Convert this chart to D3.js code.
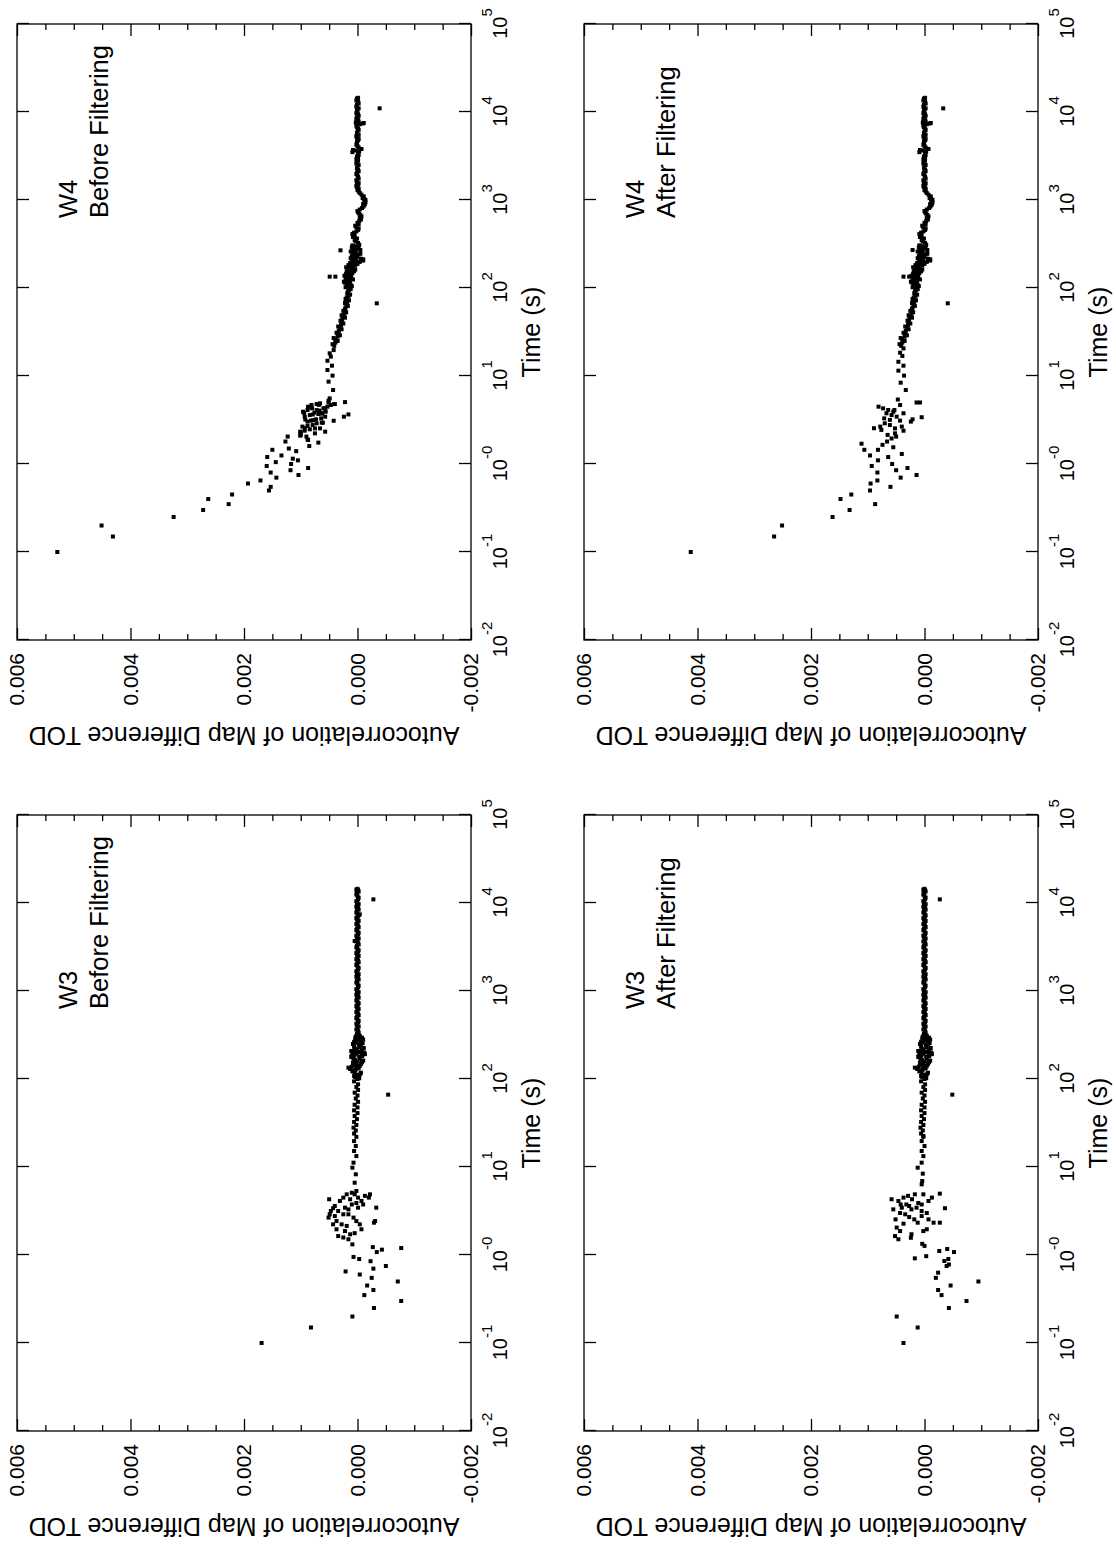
<!DOCTYPE html>

<html lang="en">
    <head>
        <meta charset="utf-8">
        <title>autocorrelation of map difference TOD</title>
        <script type="text/javascript" src="https://cdn.jsdelivr.net/npm/d3@7"></script>
        <style>
            body { margin: 0; background: #ffffff; }
            svg { display: block; }
        </style>
    </head>
    <body>
        <script type="text/javascript">
            // axis ticks
            var timeTicks = [1e-2, 1e-1, 1, 1e1, 1e2, 1e3, 1e4, 1e5];
            var timeTickExp = ["-2", "-1", "-0", "1", "2", "3", "4", "5"];
            var acfTicks = [0.006, 0.004, 0.002, 0.000, -0.002];
            var acfTickLabels = ["0.006", "0.004", "0.002", "0.000", "-0.002"];
            var acfMinorTicks = [0.0055, 0.005, 0.0045, 0.0035, 0.003, 0.0025, 0.0015, 0.001, 0.0005, -0.0005, -0.001, -0.0015];

            // [lag time (s), autocorrelation], short lags + outliers
            var w4BeforePoints = [[0.1,0.00529],[0.15,0.00431],[0.2,0.00451],[0.25,0.00324],[0.3,0.00272],[0.35,0.00227],[0.4,0.00263],[0.45,0.00221],
                [0.5,0.00156],[0.55,0.00153],[0.6,0.00193],[0.65,0.00171],[0.7,0.00143],[0.75,0.00104],[0.8,0.00153],[0.85,0.00118],[0.9,0.00087],
                [0.95,0.00160],[1.0,0.00117],[1.05,0.00144],[1.1,0.00105],[1.15,0.00114],[1.2,0.00159],[1.25,0.00134],[1.4,0.00108],[1.45,0.00150],
                [1.5,0.00121],[1.6,0.00085],[1.75,0.00069],[1.8,0.00127],[1.87,0.00087],[1.9,0.00088],[2.05,0.00123],[2.05,0.00090],[2.1,0.00101],
                [2.14,0.00100],[2.23,0.00075],[2.3,0.00100],[2.33,0.00101],[2.33,0.00057],[2.39,0.00093],[2.48,0.00084],[2.54,0.00075],[2.54,0.00066],
                [2.55,0.00093],[2.66,0.00097],[2.7,0.00088],[2.77,0.00079],[2.9,0.00072],[2.95,0.00063],[2.95,0.00061],[3.03,0.00088],[3.1,0.00042],
                [3.11,0.00082],[3.15,0.00078],[3.2,0.00092],[3.22,0.00073],[3.3,0.00064],[3.45,0.00093],[3.45,0.00057],[3.45,0.00024],[3.6,0.00084],
                [3.65,0.00079],[3.66,0.00016],[3.7,0.00069],[3.75,0.00063],[3.77,0.00062],[3.8,0.00094],[3.83,0.00076],[3.93,0.00096],[3.93,0.00056],
                [4.04,0.00067],[4.1,0.00072],[4.11,0.00088],[4.29,0.00080],[4.29,0.00060],[4.3,0.00057],[4.35,0.00087],[4.48,0.00087],[4.48,0.00053],
                [4.68,0.00081],[4.68,0.00047],[4.7,0.00068],[4.8,0.00041],[4.8,0.00040],[4.8,0.00072],[4.89,0.00066],[5.0,0.00051],[5.05,0.00022],
                [5.24,0.00051],[5.57,0.00049],[6.93,0.00043],[8.63,0.00051],[10.1,0.00044],[11.7,0.00053],[13.1,0.00045],[14.9,0.00053],[16.6,0.00047],
                [18.1,0.00049],[19.7,0.00042],[67,-0.00034],[134.6,0.00049],[134.6,0.00039],[268,0.00030],[11000,-0.00039]];

            var w4AfterPoints = [[0.1,0.00412],[0.15,0.00265],[0.2,0.00251],[0.25,0.00162],[0.3,0.00132],[0.35,0.00087],[0.4,0.00148],[0.45,0.00129],
                [0.5,0.00096],[0.55,0.00060],[0.6,0.00095],[0.65,0.00083],[0.7,0.00042],[0.75,0.00014],[0.8,0.00083],[0.85,0.00050],[0.9,0.00030],
                [0.95,0.00093],[1.0,0.00057],[1.1,0.00082],[1.2,0.00064],[1.25,0.00096],[1.3,0.00040],[1.45,0.00106],[1.45,0.00082],[1.55,0.00055],
                [1.65,0.00074],[1.7,0.00111],[1.8,0.00066],[1.95,0.00058],[2.05,0.00050],[2.14,0.00065],[2.23,0.00052],[2.39,0.00037],[2.44,0.00076],
                [2.54,0.00052],[2.55,0.00089],[2.66,0.00078],[2.66,0.00040],[2.77,0.00061],[2.9,0.00070],[3.03,0.00024],[3.11,0.00043],[3.17,0.00061],
                [3.22,0.00021],[3.3,0.00071],[3.4,0.00005],[3.45,0.00049],[3.6,0.00058],[3.77,0.00067],[3.77,0.00037],[3.93,0.00055],[4.11,0.00064],
                [4.11,0.00053],[4.29,0.00073],[4.48,0.00081],[4.68,0.00043],[5.0,0.00008],[5.0,0.00014],[5.4,0.00047],[6.93,0.00033],[8.4,0.00042],
                [10.1,0.00036],[11.5,0.00046],[13.1,0.00037],[14.5,0.00046],[16.9,0.00039],[18.4,0.00043],[20.6,0.00037],[67,-0.00041],
                [134.6,0.00037],[134.6,0.00027],[270,0.00021],[11000,-0.00033]];

            var w3BeforePoints = [[0.1,0.00169],[0.15,0.00082],[0.2,0.00009],[0.25,-0.00029],[0.3,-0.00077],[0.35,-0.00012],[0.4,-0.00028],
                [0.45,-0.00017],[0.5,-0.00071],[0.55,-0.00025],[0.6,-0.00004],[0.65,0.00021],[0.7,-0.00028],[0.75,-0.00050],[0.85,-0.00023],
                [0.9,-0.00003],[0.95,0.00007],[1.08,-0.00034],[1.15,-0.00043],[1.2,-0.00077],[1.23,-0.00027],[1.32,0.00009],[1.51,0.00016],
                [1.58,0.00025],[1.64,0.00034],[1.72,0.00013],[1.77,0.00005],[1.87,0.00022],[1.96,0.00037],[1.96,-0.00007],[2.14,0.00019],
                [2.23,0.00043],[2.23,0.00028],[2.23,-0.00004],[2.33,-0.00029],[2.43,-0.00031],[2.43,0.00037],[2.43,0.00002],[2.66,0.00051],
                [2.66,0.00007],[2.77,0.00040],[2.9,0.00049],[2.9,0.00016],[2.9,0.00025],[3.16,0.00047],[3.16,0.00034],[3.3,0.00016],[3.4,0.00043],
                [3.45,-0.00033],[3.45,-0.00001],[3.45,0.00022],[3.6,0.00040],[3.75,-0.00010],[3.75,0.00010],[3.9,0.00002],[4.11,0.00031],
                [4.11,-0.00007],[4.3,0.00050],[4.3,0.00013],[4.49,0.00025],[4.49,-0.00001],[4.49,-0.00020],[4.7,-0.00013],[4.89,0.00019],
                [4.89,0.00005],[4.89,-0.00022],[5.1,0.00010],[5.34,0.00002],[6.63,0.00005],[8.26,0.00003],[9.82,0.00009],[11.2,0.00007],
                [13.3,0.00002],[15.2,0.00006],[17.3,0.00003],[19.7,0.00006],[66.4,-0.00054],[134.6,0.00016],[3700,0.00005],[7430,-0.00004],
                [11000,-0.00028]];

            var w3AfterPoints = [[0.1,0.00037],[0.15,0.00012],[0.2,0.00049],[0.25,-0.00043],[0.3,-0.00074],[0.35,-0.00030],[0.4,-0.00024],
                [0.45,-0.00046],[0.5,-0.00095],[0.55,-0.00020],[0.63,-0.00024],[0.75,-0.00039],[0.78,-0.00043],[0.855,-0.00035],[0.9,-0.00042],
                [0.916,0.00017],[0.97,-0.00003],[1.08,-0.00052],[1.11,-0.00026],[1.17,-0.00040],[1.27,0.00000],[1.34,0.00004],[1.51,0.00046],
                [1.57,0.00024],[1.64,0.00052],[1.72,0.00023],[1.87,0.00043],[1.87,0.00002],[1.96,-0.00004],[2.05,0.00049],[2.27,0.00037],
                [2.33,0.00012],[2.33,-0.00016],[2.33,-0.00027],[2.54,0.00018],[2.54,-0.00007],[2.54,0.00051],[2.7,0.00027],[2.77,0.00005],
                [2.9,0.00034],[3.0,0.00043],[3.0,-0.00004],[3.16,0.00005],[3.3,0.00055],[3.3,0.00023],[3.4,-0.00036],[3.45,0.00040],[3.45,0.00014],
                [3.6,0.00027],[3.75,0.00032],[3.75,0.00042],[3.75,0.00005],[3.9,0.00011],[4.11,0.00046],[4.11,-0.00007],[4.3,0.00058],[4.3,0.00022],
                [4.49,0.00037],[4.49,-0.00013],[4.7,0.00029],[4.89,0.00002],[4.89,0.00017],[4.98,-0.00027],[6.35,0.00005],[6.93,0.00004],
                [8.4,0.00003],[9.82,0.00012],[11.2,0.00005],[13.3,0.00002],[15.2,0.00005],[17.3,0.00000],[19.7,0.00005],[22.5,0.00002],
                [66.4,-0.00049],[134.6,0.00017],[11000,-0.00027]];

            // long lags, same in both filter stages (centre of the band)
            var w4Band = [[22,0.00041],[24,0.00039],[26,0.00039],[28,0.00035],[30,0.00034],[32.5,0.00033],[35,0.00031],[38,0.00029],[41,0.00028],
                [44,0.00027],[47.5,0.00025],[51,0.00023],[55,0.00025],[60,0.00021],[65,0.00019],[70,0.00018],[75,0.00021],[81,0.00016],[87,0.00018],
                [94,0.00015],[100,0.00016],[105,0.00010],[110,0.00019],[115,0.00022],[120,0.00013],[125,0.00008],[130,0.00021],[135,0.00017],
                [140,0.00011],[145,0.00020],[150,0.00016],[155,0.00006],[160,0.00009],[165,0.00018],[175,0.00015],[180,0.00004],[185,0.00012],
                [190,0.00005],[195,0.00010],[200,0.00002],[205,-0.00010],[210,0.00008],[215,-0.00006],[220,0.00006],[230,0.00010],[240,-0.00002],
                [250,0.00004],[260,0.00012],[270,-0.00005],[280,0.00002],[290,0.00010],[300,0.00007],[310,-0.00003],[325,-0.00001],[350,0.00005],
                [380,0.00008],[410,0.00009],[440,0.00002],[475,-0.00002],[510,0.00004],[550,0.00000],[600,-0.00006],[650,-0.00007],[700,-0.00003],
                [750,0.00000],[810,-0.00008],[870,-0.00012],[900,-0.00010],[940,-0.00014],[970,-0.00012],[1000,-0.00014],[1050,-0.00009],
                [1100,-0.00011],[1200,-0.00004],[1300,0.00000],[1400,0.00001],[1500,-0.00001],[1600,0.00001],[1750,-0.00002],[1900,0.00000],
                [2050,0.00001],[2200,-0.00001],[2400,0.00000],[2600,0.00002],[2800,-0.00001],[3000,-0.00001],[3250,-0.00002],[3500,0.00009],
                [3650,0.00003],[3800,-0.00007],[4100,0.00000],[4400,0.00001],[4750,-0.00001],[5100,0.00001],[5500,-0.00002],[6000,0.00000],
                [6500,-0.00001],[7000,0.00002],[7500,-0.00011],[7700,0.00001],[8100,-0.00001],[8700,0.00001],[9400,-0.00001],[10000,0.00000],
                [11000,-0.00002],[12000,0.00001],[13000,-0.00001],[14000,0.00000],[14500,-0.00001]];

            // spread of the band around its centre
            var w4BandSpread = [[23,0.00044],[25,0.00035],[27,0.00042],[29,0.00031],[31,0.00037],[34,0.00028],[36.5,0.00034],[39.5,0.00025],
                [42.5,0.00030],[46,0.00022],[49,0.00028],[53,0.00020],[57.5,0.00022],[62.5,0.00017],[67.5,0.00022],[72.5,0.00015],[78,0.00019],
                [84,0.00013],[90.5,0.00017],[97,0.00012],[102,0.00021],[108,0.00012],[112,0.00016],[118,0.00024],[122,0.00018],[128,0.00011],
                [132,0.00015],[138,0.00023],[142,0.00014],[148,0.00009],[152,0.00019],[158,0.00013],[162,0.00004],[168,0.00011],[172,0.00020],
                [178,0.00008],[182,0.00016],[188,0.00000],[192,0.00013],[198,-0.00004],[202,0.00009],[208,0.00003],[212,-0.00010],[218,0.00012],
                [225,0.00001],[235,0.00007],[245,-0.00005],[255,0.00009],[265,0.00003],[275,0.00008],[285,-0.00002],[295,0.00004],[305,0.00009],
                [337,0.00003],[365,0.00001],[395,0.00005],[425,0.00006],[457,-0.00001],[492,0.00002],[530,-0.00002],[575,-0.00003],[625,-0.00004],
                [675,-0.00005],[725,-0.00001],[780,-0.00004],[840,-0.00010],[905,-0.00013],[1025,-0.00012],[1150,-0.00007],[1250,-0.00002],
                [1350,-0.00002],[1450,0.00002],[1550,-0.00002],[1675,0.00002],[1825,-0.00001],[1975,0.00002],[2125,-0.00002],[2300,0.00001],
                [2500,-0.00002],[2700,0.00001],[2900,0.00002],[3125,0.00001],[3375,-0.00001],[3575,-0.00003],[3700,0.00008],[3950,-0.00002],
                [4250,0.00002],[4575,0.00001],[4925,-0.00002],[5300,0.00002],[5750,0.00001],[6250,-0.00002],[6750,0.00001],[7250,-0.00004],
                [7400,-0.00009],[7600,0.00003],[7800,-0.00002],[8400,0.00002],[9050,-0.00002],[9700,0.00002],[10500,0.00001],[11500,0.00002],
                [12500,-0.00002],[13500,0.00002],[14200,0.00001]];

            var w3Band = [[22,0.00002],[24,0.00006],[26,0.00003],[28,0.00007],[30,0.00002],[32.5,0.00006],[35,0.00001],[38,0.00005],[41,0.00000],
                [44,0.00006],[47.5,0.00000],[51,0.00005],[55,-0.00001],[60,0.00003],[65,0.00000],[70,0.00005],[75,-0.00001],[81,0.00002],
                [87,-0.00001],[94,0.00006],[100,0.00000],[105,0.00004],[110,-0.00003],[115,-0.00005],[120,0.00005],[125,0.00008],[130,0.00013],
                [135,0.00002],[140,-0.00004],[145,0.00006],[150,0.00003],[155,-0.00008],[160,-0.00007],[165,0.00004],[175,0.00007],[180,-0.00003],
                [185,0.00010],[190,-0.00010],[195,0.00002],[200,-0.00012],[205,-0.00001],[210,0.00006],[220,0.00005],[230,-0.00004],[240,-0.00006],
                [250,0.00008],[260,0.00002],[270,-0.00006],[280,-0.00010],[290,0.00004],[300,-0.00001],[310,-0.00004],[325,0.00001],[350,-0.00001],
                [380,0.00000],[410,0.00001],[440,-0.00001],[475,0.00000],[510,0.00001],[550,-0.00001],[600,0.00000],[650,0.00001],[700,-0.00001],
                [750,0.00000],[810,0.00001],[870,-0.00001],[940,0.00000],[1000,0.00001],[1100,-0.00001],[1200,0.00000],[1300,0.00001],
                [1400,-0.00001],[1500,0.00000],[1600,0.00001],[1750,-0.00001],[1900,0.00000],[2050,0.00001],[2200,-0.00001],[2400,0.00000],
                [2600,0.00001],[2800,-0.00001],[3000,0.00000],[3250,0.00001],[3500,-0.00001],[3800,0.00000],[4100,0.00001],[4400,-0.00001],
                [4750,0.00000],[5100,0.00001],[5500,-0.00001],[6000,0.00000],[6500,0.00001],[7000,-0.00001],[7500,0.00000],[8100,0.00001],
                [8700,-0.00001],[9400,0.00000],[10000,0.00001],[11000,-0.00001],[12000,0.00000],[13000,0.00001],[14000,-0.00001],[14500,0.00000]];

            var w3BandSpread = [[102,-0.00003],[108,0.00006],[112,0.00002],[118,-0.00006],[122,0.00009],[128,0.00003],[132,-0.00002],[138,0.00010],
                [142,0.00001],[148,-0.00006],[152,0.00008],[158,0.00000],[162,-0.00010],[168,0.00007],[172,-0.00004],[178,0.00011],[182,-0.00008],
                [188,0.00005],[192,-0.00013],[198,0.00008],[202,-0.00005],[208,0.00011],[212,-0.00008],[218,0.00002],[225,-0.00011],[235,0.00006],
                [245,-0.00002],[255,-0.00009],[265,0.00006],[275,-0.00004],[285,0.00002],[295,-0.00008],[305,0.00003],[337,-0.00002],[365,0.00002],
                [395,-0.00002],[425,0.00002],[457,-0.00002],[492,0.00002],[530,-0.00002],[575,0.00002],[625,-0.00002],[675,0.00002],[725,-0.00002],
                [780,0.00002],[840,-0.00002],[905,0.00002],[970,-0.00002],[1050,0.00002],[1150,-0.00002],[1250,0.00002],[1350,-0.00002],
                [1450,0.00002],[1550,-0.00002],[1675,0.00002],[1825,-0.00002],[1975,0.00002],[2125,-0.00002],[2300,0.00002],[2500,-0.00002],
                [2700,0.00002],[2900,-0.00002],[3125,0.00002],[3375,-0.00002],[3650,0.00002],[3950,-0.00002],[4250,0.00002],[4575,-0.00002],
                [4925,0.00002],[5300,-0.00002],[5750,0.00002],[6250,-0.00002],[6750,0.00002],[7250,-0.00002],[7800,0.00002],[8400,-0.00002],
                [9050,0.00002],[9700,-0.00002],[10500,0.00002],[11500,-0.00002],[12500,0.00002],[13500,-0.00002],[14200,0.00002]];

            var panels = [
                {name: "W3", stage: "Before Filtering", points: w3BeforePoints, band: w3Band.concat(w3BandSpread), left: 114, top: 17},
                {name: "W4", stage: "Before Filtering", points: w4BeforePoints, band: w4Band.concat(w4BandSpread), left: 905, top: 17},
                {name: "W3", stage: "After Filtering", points: w3AfterPoints, band: w3Band.concat(w3BandSpread), left: 114, top: 584},
                {name: "W4", stage: "After Filtering", points: w4AfterPoints, band: w4Band.concat(w4BandSpread), left: 905, top: 584}
            ];

            var font = "'Liberation Sans', Arial, Helvetica, sans-serif";
            var w = 1116;
            var h = 1545;
            var panelW = 616;
            var panelH = 454;

            var svg = d3.select("body")
                        .append("svg")
                        .attr("width", w)
                        .attr("height", h);

            svg.append("rect").attr("width", w).attr("height", h).attr("fill", "#ffffff");

            // the figure is laid out landscape and turned a quarter to the left
            var fig = svg.append("g")
                         .attr("transform", "translate(0," + h + ") rotate(-90)");

            var xscale = d3.scaleLog()
                .domain([1e-2, 1e5])
                .range([0, panelW]);

            var yscale = d3.scaleLinear()
                .domain([-0.002, 0.006])
                .range([panelH, 0]);

            panels.forEach(function(p) {
                var g = fig.append("g")
                           .attr("transform", "translate(" + p.left + "," + p.top + ")");
                make_points(g, p.points.concat(p.band));
                make_axis(g);
                make_labels(g, p);
            });

            function make_points(g, data) {
                g.append("g")
                 .selectAll("rect")
                 .data(data)
                 .enter()
                 .append("rect")
                 .attr("x", function(d) { return xscale(d[0]) - 2; })
                 .attr("y", function(d) { return yscale(d[1]) - 2; })
                 .attr("width", 4)
                 .attr("height", 4)
                 .attr("fill", "#000000");
            }

            function style_axis(sel) {
                sel.select(".domain").remove();
                sel.selectAll(".tick line").attr("stroke", "#000000").attr("stroke-width", 1.3);
            }

            function make_axis(g) {
                var bottom = g.append("g")
                    .attr("transform", "translate(0," + panelH + ")")
                    .call(d3.axisBottom(xscale).tickValues(timeTicks).tickSizeInner(-12).tickSizeOuter(0).tickFormat(""));
                style_axis(bottom);
                bottom.selectAll(".tick text").remove();
                bottom.selectAll(".tick")
                    .append("text")
                    .attr("y", 36)
                    .attr("text-anchor", "middle")
                    .attr("fill", "#000000")
                    .style("font-family", font)
                    .style("font-size", "20px")
                    .each(function(d) {
                        var t = d3.select(this);
                        t.append("tspan").text("10");
                        t.append("tspan").attr("dy", -15).style("font-size", "15px").text(timeTickExp[timeTicks.indexOf(d)]);
                    });

                var top = g.append("g")
                    .call(d3.axisTop(xscale).tickValues(timeTicks).tickSizeInner(-12).tickSizeOuter(0).tickFormat(""));
                style_axis(top);

                var left = g.append("g")
                    .call(d3.axisLeft(yscale).tickValues(acfTicks).tickSizeInner(-12).tickSizeOuter(0).tickPadding(13)
                        .tickFormat(function(d) { return acfTickLabels[acfTicks.indexOf(d)]; }));
                style_axis(left);
                left.selectAll(".tick text")
                    .attr("fill", "#000000")
                    .style("font-family", font)
                    .style("font-size", "21px");

                var leftMinor = g.append("g")
                    .call(d3.axisLeft(yscale).tickValues(acfMinorTicks).tickSizeInner(-6).tickSizeOuter(0).tickFormat(""));
                style_axis(leftMinor);

                var right = g.append("g")
                    .attr("transform", "translate(" + panelW + ",0)")
                    .call(d3.axisRight(yscale).tickValues(acfTicks).tickSizeInner(-12).tickSizeOuter(0).tickFormat(""));
                style_axis(right);

                var rightMinor = g.append("g")
                    .attr("transform", "translate(" + panelW + ",0)")
                    .call(d3.axisRight(yscale).tickValues(acfMinorTicks).tickSizeInner(-6).tickSizeOuter(0).tickFormat(""));
                style_axis(rightMinor);

                g.append("rect")
                 .attr("width", panelW)
                 .attr("height", panelH)
                 .attr("fill", "none")
                 .attr("stroke", "#000000")
                 .attr("stroke-width", 1.3);
            }

            function make_labels(g, p) {
                g.append("text")
                 .attr("transform", "translate(-87," + (panelH / 2) + ") rotate(-90)")
                 .attr("text-anchor", "middle")
                 .style("font-family", font)
                 .style("font-size", "25px")
                 .text("Autocorrelation of Map Difference TOD");

                g.append("text")
                 .attr("x", panelW / 2)
                 .attr("y", panelH + 69)
                 .attr("text-anchor", "middle")
                 .style("font-family", font)
                 .style("font-size", "25px")
                 .text("Time (s)");

                g.append("text")
                 .attr("x", 422)
                 .attr("y", 60)
                 .style("font-family", font)
                 .style("font-size", "25.5px")
                 .text(p.name);

                g.append("text")
                 .attr("x", 422)
                 .attr("y", 91)
                 .style("font-family", font)
                 .style("font-size", "25.5px")
                 .text(p.stage);
            }
        </script>
    </body>
</html>
